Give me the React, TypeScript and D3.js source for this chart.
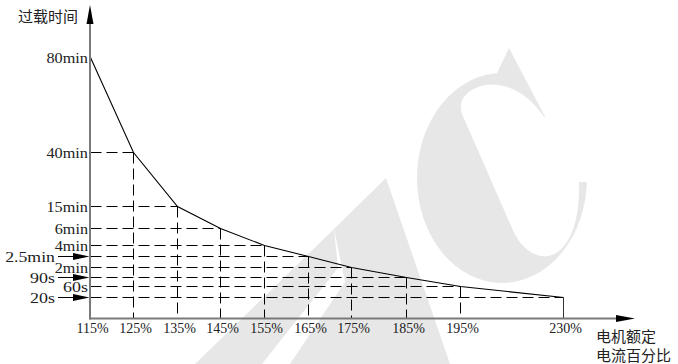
import React from "react";
import * as d3 from "d3";

// ---- data ----
const currentPct = [115, 125, 135, 145, 155, 165, 175, 185, 195, 230];
const timeLabels = ["80min", "40min", "15min", "6min", "4min", "2.5min", "2min", "90s", "60s", "20s"];
const timeSeconds = [4800, 2400, 900, 360, 240, 150, 120, 90, 60, 20];
const xTickLabels = ["115%", "125%", "135%", "145%", "155%", "165%", "175%", "185%", "195%", "230%"];
const arrowedLabels = ["2.5min", "90s", "20s"];
const yAxisTitle = "过载时间";
const xAxisTitle = ["电机额定", "电流百分比"];

// ---- layout (schematic, non-uniform axes) ----
const W = 678;
const H = 364;
const x0 = 90.5;
const yAxisBottom = 318.5;
const xStops = [90.5, 133.5, 177.5, 220.5, 264.5, 308.5, 351.5, 406.5, 460.5, 563.5];
const yStops = [57.5, 152.5, 206.5, 228.5, 245.5, 256.5, 267.5, 277.5, 286.5, 297.5];

const xScale = d3.scaleLinear().domain(currentPct).range(xStops);
const yScale = d3.scaleLinear().domain(timeSeconds).range(yStops);

const points = currentPct.map((p, i) => ({ p, s: timeSeconds[i], label: timeLabels[i] }));

const serif = "'Liberation Serif', 'DejaVu Serif', serif";
const cjk = "'Noto Sans CJK SC', sans-serif";
const axisGray = "#7a7a7a";
const wm = "#e7e7e7";

const cInner =
  "M 545,118 C 530,95 507,82 486,85 C 468,88 457,100 462,114 L 512,228 " +
  "C 520,248 535,258 548,256 C 568,252 580,225 579,182 L 610,182 L 610,100 Z";

export default function App() {
  const line = d3
    .line<{ p: number; s: number }>()
    .x((d) => xScale(d.p))
    .y((d) => yScale(d.s));

  return (
    <svg
      width={W}
      height={H}
      style={{ position: "absolute", left: 0, top: 0, background: "#fff" }}
    >
      <defs>
        <mask id="cmask">
          <rect x={0} y={0} width={W} height={H} fill="white" />
          <path d={cInner} fill="black" />
          <polygon points="545,117 509,48 509,0 700,0 700,182 578,182" fill="black" />
        </mask>
      </defs>

      {/* watermark */}
      <g fill={wm}>
        <ellipse cx={502} cy={178} rx={85} ry={105} mask="url(#cmask)" />
        <polygon points="497,73 509,48 545,117 530,100" />
        <polygon points="334,229 386,178 450,364 290,364 345,282" />
        <polygon points="195,364 262,364 338,268 334,229" />
      </g>

      {/* dashed guides */}
      <g stroke="#000" strokeWidth={1} strokeDasharray="11,5" fill="none">
        {points.slice(1).map((d) => (
          <line key={"h" + d.label} x1={x0} x2={xScale(d.p)} y1={yScale(d.s)} y2={yScale(d.s)} />
        ))}
        {points.slice(1, -1).map((d) => (
          <line key={"v" + d.label} x1={xScale(d.p)} x2={xScale(d.p)} y1={yScale(d.s)} y2={yAxisBottom} />
        ))}
      </g>
      {points.slice(-1).map((d) => (
        <line key="vlast" x1={xScale(d.p)} x2={xScale(d.p)} y1={yScale(d.s)} y2={yAxisBottom} stroke="#333" strokeWidth={1} />
      ))}

      {/* curve */}
      <path d={line(points) || ""} fill="none" stroke="#000" strokeWidth={1.1} />

      {/* axes */}
      <line x1={x0 - 0.5} x2={x0 - 0.5} y1={yAxisBottom + 1} y2={20} stroke={axisGray} strokeWidth={2} />
      <line x1={x0 - 1} x2={620} y1={yAxisBottom} y2={yAxisBottom} stroke={axisGray} strokeWidth={2} />
      <polygon points={`${x0 - 0.5},5 ${x0 - 4},24 ${x0 + 3},24`} fill="#000" />
      <polygon points={`635,${yAxisBottom} 616,${yAxisBottom - 3.5} 616,${yAxisBottom + 3.5}`} fill="#000" />

      {/* y labels */}
      <g fontFamily={serif} fontSize={15} fill="#222">
        {points.map((d) => {
          const y = yScale(d.s);
          const arrowed = arrowedLabels.includes(d.label);
          const xr = arrowed ? 55 : 88;
          return (
            <g key={"yl" + d.label}>
              <text
                x={xr}
                y={y}
                textAnchor="end"
                dominantBaseline="central"
                textLength={d.label.length * 8.3}
                lengthAdjust="spacingAndGlyphs"
              >
                {d.label}
              </text>
              {arrowed && (
                <g>
                  <line x1={58} x2={80} y1={y} y2={y} stroke="#000" strokeWidth={1} />
                  <polygon points={`${x0 - 1},${y} 73,${y - 3.5} 73,${y + 3.5}`} fill="#000" />
                </g>
              )}
            </g>
          );
        })}
      </g>

      {/* x labels */}
      <g fontFamily={serif} fontSize={14} fill="#222">
        {currentPct.map((p, i) => (
          <text key={"xl" + p} x={xScale(p) + 2} y={333} textAnchor="middle">
            {xTickLabels[i]}
          </text>
        ))}
      </g>

      {/* titles */}
      <text x={18} y={22} fontFamily={cjk} fontSize={15} fill="#222">
        {yAxisTitle}
      </text>
      <text x={596} y={342} fontFamily={cjk} fontSize={15} fill="#222">
        {xAxisTitle[0]}
      </text>
      <text x={596} y={361} fontFamily={cjk} fontSize={15} fill="#222">
        {xAxisTitle[1]}
      </text>
    </svg>
  );
}
